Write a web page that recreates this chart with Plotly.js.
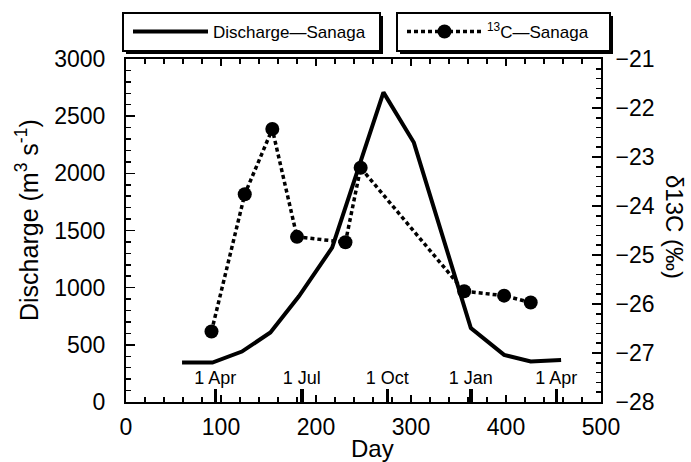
<!DOCTYPE html>
<html>
<head>
<meta charset="utf-8">
<script src="https://cdn.plot.ly/plotly-3.0.1.min.js"></script>
<style>html,body{margin:0;padding:0;background:#fff;}#chart{width:691px;height:462px;}</style>
</head>
<body>
<div id="chart"></div>
<script>
// Discharge (m3 s-1) of the Sanaga by day
const dischargeDays = [59, 91, 122, 152, 182, 217, 271, 303, 363, 398, 426, 458];
const dischargeVals = [345, 345, 441, 608, 924, 1350, 2708, 2269, 646, 412, 354, 368];
// delta 13C (permil) by day
const d13cDays = [90, 125, 154, 180, 231, 247, 356, 398, 426];
const d13cVals = [-26.56, -23.76, -22.43, -24.63, -24.74, -23.22, -25.74, -25.83, -25.97];
// month markers along the day axis
const monthDays = [94, 185, 275, 363, 453];
const monthLabels = ['1 Apr', '1 Jul', '1 Oct', '1 Jan', '1 Apr'];

const W = 691, H = 462, ML = 126, MR = 90, MT = 59, MB = 60;
const PW = W - ML - MR, PH = H - MT - MB;
const px = x => (x - ML) / PW;
const py = y => (H - MB - y) / PH;
const FONT = '"Liberation Sans", Arial, Helvetica, sans-serif';

const traces = [
  {x: dischargeDays, y: dischargeVals, type: 'scatter', mode: 'lines', name: 'Discharge\u2014Sanaga',
   line: {color: '#000', width: 4}, xaxis: 'x', yaxis: 'y', legend: 'legend'},
  {x: d13cDays, y: d13cVals, type: 'scatter', mode: 'lines+markers', name: '<sup>13</sup>C\u2014Sanaga',
   line: {color: '#000', width: 3.5, dash: '4px,3px'}, marker: {color: '#000', size: 14},
   xaxis: 'x2', yaxis: 'y2', legend: 'legend2'}
];

function rect(x0, x1, y0, y1, fill, lw) {
  return {type: 'rect', xref: 'paper', yref: 'paper', x0: px(x0), x1: px(x1), y0: py(y1), y1: py(y0),
          fillcolor: fill, line: {width: lw, color: '#000'}, layer: 'above'};
}

const layout = {
  width: W, height: H,
  margin: {l: ML, r: MR, t: MT, b: MB, autoexpand: false},
  paper_bgcolor: '#fff', plot_bgcolor: '#fff',
  font: {family: FONT, color: '#000', size: 22},
  xaxis: {range: [0, 500], dtick: 100, tick0: 0, ticks: 'inside', ticklen: 7, tickwidth: 1.5, tickcolor: '#000',
          minor: {dtick: 20, ticks: 'inside', ticklen: 5, tickwidth: 1.5, tickcolor: '#000'},
          showline: true, linewidth: 2, linecolor: '#000', mirror: 'ticks', showgrid: false, zeroline: false,
          tickfont: {size: 23, color: '#000'}, ticklabelstandoff: 3},
  xaxis2: {range: [0, 500], overlaying: 'x', anchor: 'free', position: 0, side: 'top', tickmode: 'array',
           tickvals: monthDays, ticktext: monthLabels,
           ticks: 'outside', ticklen: 13, tickwidth: 3.5, tickcolor: '#000',
           showline: false, showgrid: false, zeroline: false, tickfont: {size: 18, color: '#000'},
           ticklabelstandoff: -2},
  yaxis: {range: [0, 3000], dtick: 500, ticks: 'inside', ticklen: 9, tickwidth: 1.5, tickcolor: '#000',
          minor: {dtick: 100, ticks: 'inside', ticklen: 5, tickwidth: 1.5, tickcolor: '#000'},
          showline: true, linewidth: 2, linecolor: '#000', showgrid: false, zeroline: false,
          tickfont: {size: 23, color: '#000'}, ticklabelstandoff: 14},
  yaxis2: {range: [-28, -21], dtick: 1, overlaying: 'y', side: 'right', ticks: 'inside', ticklen: 9, tickwidth: 1.5,
           tickcolor: '#000', minor: {dtick: 0.2, ticks: 'inside', ticklen: 5, tickwidth: 1.5, tickcolor: '#000'},
           showline: true, linewidth: 2, linecolor: '#000', showgrid: false, zeroline: false,
           tickfont: {size: 23, color: '#000'}, ticklabelstandoff: 8},
  legend: {x: px(128), y: py(14), xanchor: 'left', yanchor: 'top', orientation: 'h', bgcolor: 'rgba(0,0,0,0)',
           borderwidth: 0, font: {size: 17, color: '#000'}, itemwidth: 75, entrywidth: 200},
  legend2: {x: px(402), y: py(14), xanchor: 'left', yanchor: 'top', orientation: 'h', bgcolor: 'rgba(0,0,0,0)',
            borderwidth: 0, font: {size: 17, color: '#000'}, itemwidth: 75, entrywidth: 150},
  shapes: [
    rect(126, 383, 16, 54, '#000', 0), rect(123, 380, 13, 51, '#fff', 2),
    rect(400, 613, 16, 54, '#000', 0), rect(397, 610, 13, 51, '#fff', 2)
  ],
  annotations: [
    {text: 'Discharge (m<sup>3</sup> s<sup>-1</sup>)', xref: 'paper', yref: 'paper', x: px(27), y: py(220),
     textangle: -90, showarrow: false, font: {size: 25}, xanchor: 'center', yanchor: 'middle'},
    {text: '\u03b413C (\u2030)', xref: 'paper', yref: 'paper', x: px(675), y: py(227),
     textangle: 90, showarrow: false, font: {size: 24}, xanchor: 'center', yanchor: 'middle'},
    {text: 'Day', xref: 'paper', yref: 'paper', x: px(372), y: py(448),
     showarrow: false, font: {size: 24}, xanchor: 'center', yanchor: 'middle'}
  ],
  showlegend: true
};

Plotly.newPlot('chart', traces, layout, {displayModeBar: false, staticPlot: true});
</script>
</body>
</html>
